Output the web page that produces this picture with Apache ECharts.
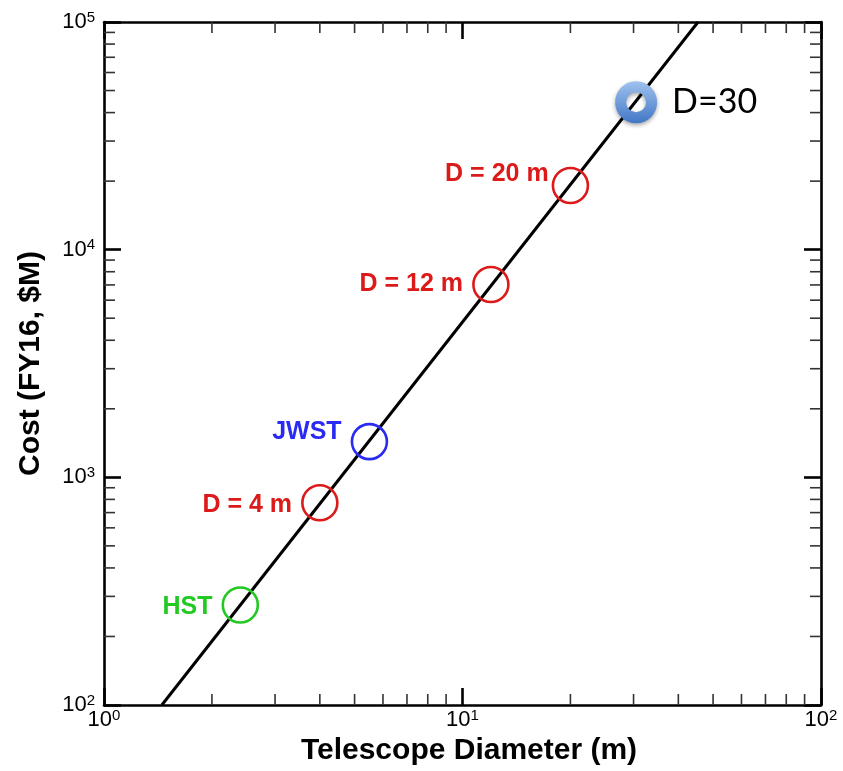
<!DOCTYPE html>
<html><head><meta charset="utf-8">
<script src="https://cdn.jsdelivr.net/npm/echarts@6/dist/echarts.min.js"></script>
<style>html,body{margin:0;padding:0;background:#fff}#c{width:843px;height:771px}</style>
</head><body><div id="c"></div>
<script>
// ---- data ----
const telescopeNames = ['HST', 'D = 4 m', 'JWST', 'D = 12 m', 'D = 20 m', 'D=30'];
const diameters = [2.4, 4, 5.5, 12, 20, 30.5];
const costs = [275, 773, 1435, 7030, 19150, 44400];
const fitDiameters = [1.45, 45.4];
const fitCosts = [100, 100000];
const xMinorTicks = [2, 3, 4, 5, 6, 7, 8, 9, 20, 30, 40, 50, 60, 70, 80, 90];
const yMinorTicks = [200, 300, 400, 500, 600, 700, 800, 900,
  2000, 3000, 4000, 5000, 6000, 7000, 8000, 9000,
  20000, 30000, 40000, 50000, 60000, 70000, 80000, 90000];

// ---- styles ----
const RED = '#dd1a1a', BLUE = '#2a2af5', GREEN = '#22c922';
const pointStyles = [
  { color: GREEN, offset: [0, 2], dist: 9 },
  { color: RED, offset: [0, 2], dist: 9 },
  { color: BLUE, offset: [0, -10], dist: 9 },
  { color: RED, offset: [0, 0], dist: 9 },
  { color: RED, offset: [0, -11], dist: 3 },
  { donut: true }
];

const pointData = diameters.map((d, i) => {
  const s = pointStyles[i];
  if (s.donut) {
    return {
      value: [d, costs[i]], name: telescopeNames[i],
      symbolSize: 31,
      itemStyle: {
        opacity: 1,
        color: 'rgba(0,0,0,0)',
        borderWidth: 11,
        borderColor: new echarts.graphic.LinearGradient(0, 0, 0, 1, [
          { offset: 0, color: '#9fc2ee' }, { offset: 1, color: '#4277c6' }
        ]),
        shadowColor: 'rgba(0,0,0,0.35)', shadowBlur: 4, shadowOffsetY: 2
      },
      label: {
        show: true, position: 'right', distance: 15, opacity: 1,
        formatter: '{b}', color: '#000', fontFamily: 'Lato', fontSize: 34
      }
    };
  }
  return {
    value: [d, costs[i]], name: telescopeNames[i],
    symbolSize: 35,
    itemStyle: { opacity: 1, color: 'rgba(0,0,0,0)', borderColor: s.color, borderWidth: 2.6 },
    label: {
      show: true, position: 'left', distance: s.dist, offset: s.offset, opacity: 1,
      formatter: '{b}', color: s.color, fontWeight: 'bold',
      fontFamily: 'Liberation Sans, Arial', fontSize: 25
    }
  };
});

function powLabel(v) {
  return '{b|10}{s|' + Math.round(Math.log10(v)) + '}';
}
const richLbl = {
  b: { fontSize: 22, fontFamily: 'Liberation Sans, Arial', color: '#000', lineHeight: 24 },
  s: { fontSize: 15, fontFamily: 'Liberation Sans, Arial', color: '#000', verticalAlign: 'top', lineHeight: 15 }
};

function minorTickSeries(values, dim) {
  return {
    type: 'custom', silent: true, z: 5, clip: false,
    data: values.map(v => dim === 'x' ? [v, 100] : [1, v]),
    renderItem(params, api) {
      const cs = params.coordSys;
      const p = api.coord([api.value(0), api.value(1)]);
      const L = 11;
      const style = { stroke: '#333', lineWidth: 1.6 };
      if (dim === 'x') {
        const yb = cs.y + cs.height, yt = cs.y;
        return { type: 'group', children: [
          { type: 'line', shape: { x1: p[0], y1: yb, x2: p[0], y2: yb - L }, style },
          { type: 'line', shape: { x1: p[0], y1: yt, x2: p[0], y2: yt + L }, style }
        ] };
      }
      const xl = cs.x, xr = cs.x + cs.width;
      return { type: 'group', children: [
        { type: 'line', shape: { x1: xl, y1: p[1], x2: xl + L, y2: p[1] }, style },
        { type: 'line', shape: { x1: xr, y1: p[1], x2: xr - L, y2: p[1] }, style }
      ] };
    }
  };
}

const axisLineStyle = { show: true, onZero: false, lineStyle: { color: '#000', width: 2.6 } };
const majorTick = { show: true, inside: true, length: 17, lineStyle: { color: '#000', width: 2.6 } };

const chart = echarts.init(document.getElementById('c'), null, { renderer: 'canvas' });
chart.setOption({
  animation: false,
  backgroundColor: '#fff',
  grid: { left: 104, right: 22, top: 22, bottom: 66 },
  xAxis: [
    {
      type: 'log', logBase: 10, min: 1, max: 100, position: 'bottom',
      axisLine: axisLineStyle, axisTick: majorTick, splitLine: { show: false },
      axisLabel: { margin: 3, formatter: powLabel, rich: richLbl },
      name: 'Telescope Diameter (m)', nameLocation: 'middle', nameGap: 30,
      nameTextStyle: { fontSize: 30, fontWeight: 'bold', fontFamily: 'Liberation Sans, Arial', color: '#000', padding: [0, 0, 0, 13] }
    },
    {
      type: 'log', logBase: 10, min: 1, max: 100, position: 'top',
      axisLine: axisLineStyle, axisTick: majorTick, splitLine: { show: false },
      axisLabel: { show: false }
    }
  ],
  yAxis: [
    {
      type: 'log', logBase: 10, min: 100, max: 100000, position: 'left',
      axisLine: axisLineStyle, axisTick: majorTick, splitLine: { show: false },
      axisLabel: { margin: 9, formatter: powLabel, rich: richLbl },
      name: 'Cost (FY16, $M)', nameLocation: 'middle', nameGap: 58, nameRotate: 90,
      nameTextStyle: { fontSize: 30, fontWeight: 'bold', fontFamily: 'Liberation Sans, Arial', color: '#000' }
    },
    {
      type: 'log', logBase: 10, min: 100, max: 100000, position: 'right',
      axisLine: axisLineStyle, axisTick: majorTick, splitLine: { show: false },
      axisLabel: { show: false }
    }
  ],
  series: [
    minorTickSeries(xMinorTicks, 'x'),
    minorTickSeries(yMinorTicks, 'y'),
    {
      type: 'line', name: 'fit', z: 3, silent: true,
      data: fitDiameters.map((d, i) => [d, fitCosts[i]]),
      symbol: 'none', lineStyle: { color: '#000', width: 3 }
    },
    {
      type: 'scatter', name: 'telescopes', z: 4, silent: true,
      emphasis: { disabled: true },
      data: pointData
    }
  ]
});
</script></body></html>
